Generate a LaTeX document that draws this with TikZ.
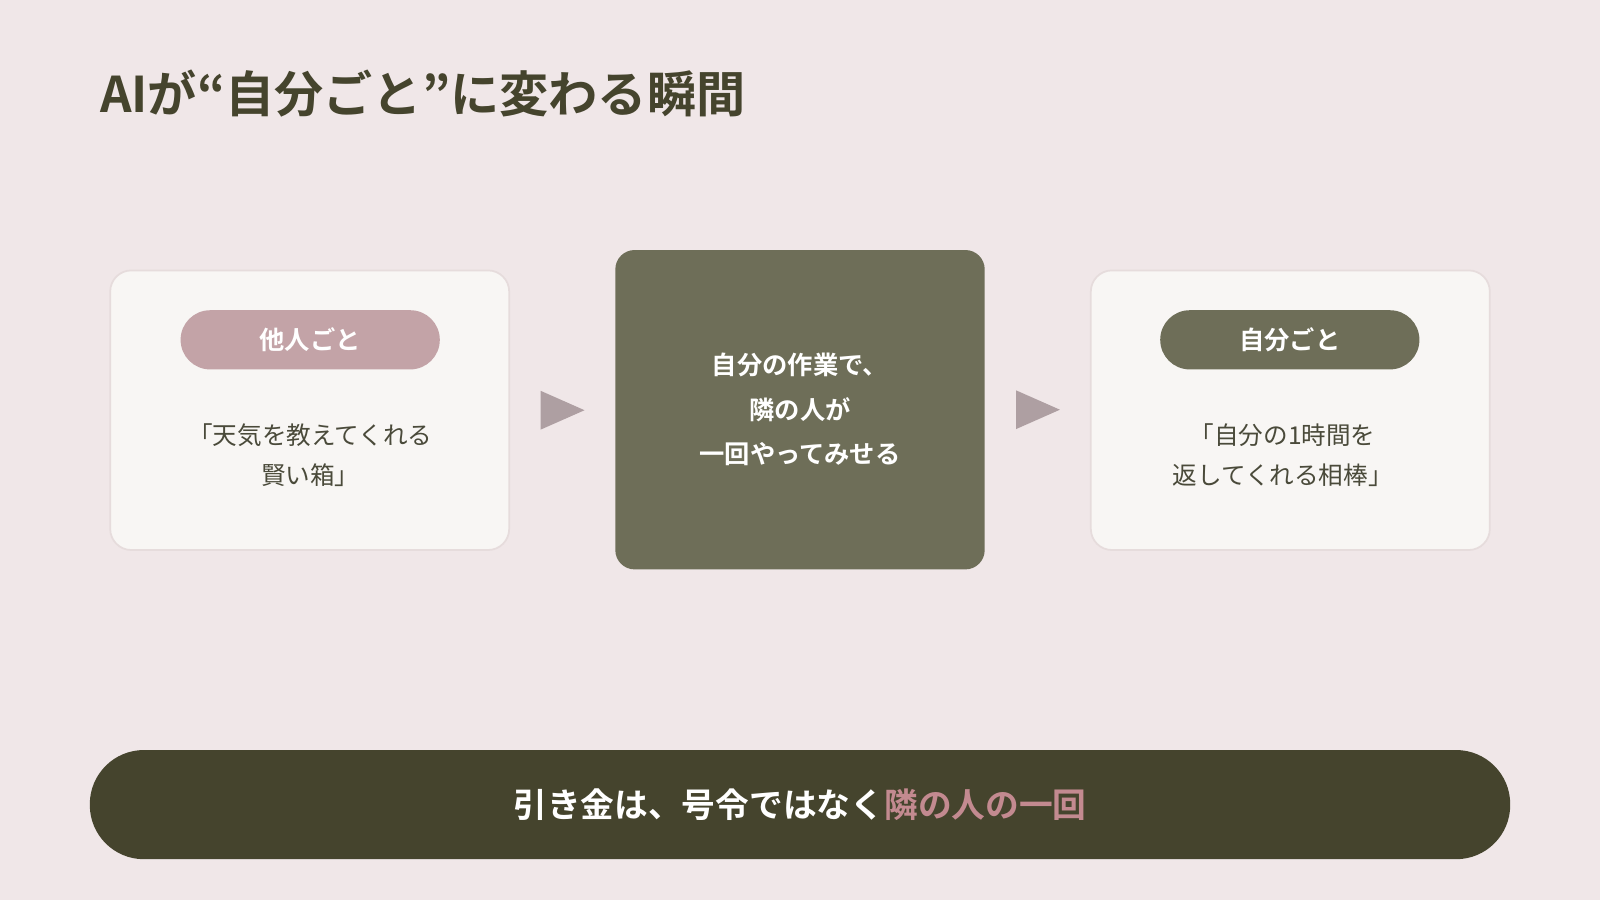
\documentclass[tikz,border=0pt]{standalone}
\usepackage{fontspec}
\setmainfont{Noto Sans CJK JP}
\newfontfamily\jpbold{Noto Sans CJK JP Bold}
\usetikzlibrary{positioning,shapes.geometric}
\definecolor{bgpink}{HTML}{F0E7E8}
\definecolor{cardbg}{HTML}{F8F6F4}
\definecolor{cardline}{HTML}{E6DCDC}
\definecolor{olive}{HTML}{6E6E58}
\definecolor{darkolive}{HTML}{45442D}
\definecolor{rose}{HTML}{C3A3A7}
\definecolor{rosetext}{HTML}{C38A90}
\definecolor{arrowgray}{HTML}{AE9FA2}
\definecolor{bodytext}{HTML}{4A4A3A}
\def\u{0.010204cm}

\tikzset{
  card/.style={draw=cardline, line width=0.5pt, fill=cardbg, rounded corners=6pt,
    minimum width=391*\u, minimum height=274*\u},
  pill/.style={fill=#1, rounded corners=8.4pt, minimum width=254*\u, minimum height=58*\u,
    text=white, font=\jpbold\fontsize{7.2}{8}\selectfont},
  quote/.style={text=bodytext, align=center, font=\fontsize{7}{11.6}\selectfont},
  tip/.style={fill=arrowgray},
}

\begin{document}
\begin{tikzpicture}[x=\u, y=-\u]
  \fill[bgpink] (0,0) rectangle (1568,882);
  \useasboundingbox (0,0) rectangle (1568,882);

  \node[anchor=west, text=darkolive, font=\jpbold\fontsize{14}{16}\selectfont] (title) at (86,92) {AIが“自分ごと”に変わる瞬間};

  \node[card] (left) at (303.5,402) {};
  \node[pill=rose] (leftpill) at (304,333) {他人ごと};
  \node[quote] (lefttext) at (304,446) {「天気を教えてくれる\\賢い箱」};

  \node[fill=olive, rounded corners=5.5pt, minimum width=362*\u, minimum height=313*\u,
    text=white, align=center, font=\jpbold\fontsize{7.2}{12.7}\selectfont] (mid) at (784,401.5)
    {自分の作業で、\\隣の人が\\一回やってみせる};

  \node[card] (right) at (1264.5,402) {};
  \node[pill=olive] (rightpill) at (1264,333) {自分ごと};
  \node[quote] (righttext) at (1257,446) {「自分の1時間を\\返してくれる相棒」};

  % arrows between the cards
  \fill[tip] ([xshift=30*\u,yshift=19*\u]left.east) -- ([xshift=73*\u]left.east) -- ([xshift=30*\u,yshift=-19*\u]left.east) -- cycle;
  \fill[tip] ([xshift=30*\u,yshift=19*\u]mid.east) -- ([xshift=73*\u]mid.east) -- ([xshift=30*\u,yshift=-19*\u]mid.east) -- cycle;

  \node[fill=darkolive, rounded corners=15.4pt, minimum width=1392*\u, minimum height=107*\u,
    text=white, font=\jpbold\fontsize{9.6}{11}\selectfont] (bar) at (784,788.5)
    {引き金は、号令ではなく\textcolor{rosetext}{隣の人の一回}};
\end{tikzpicture}
\end{document}
